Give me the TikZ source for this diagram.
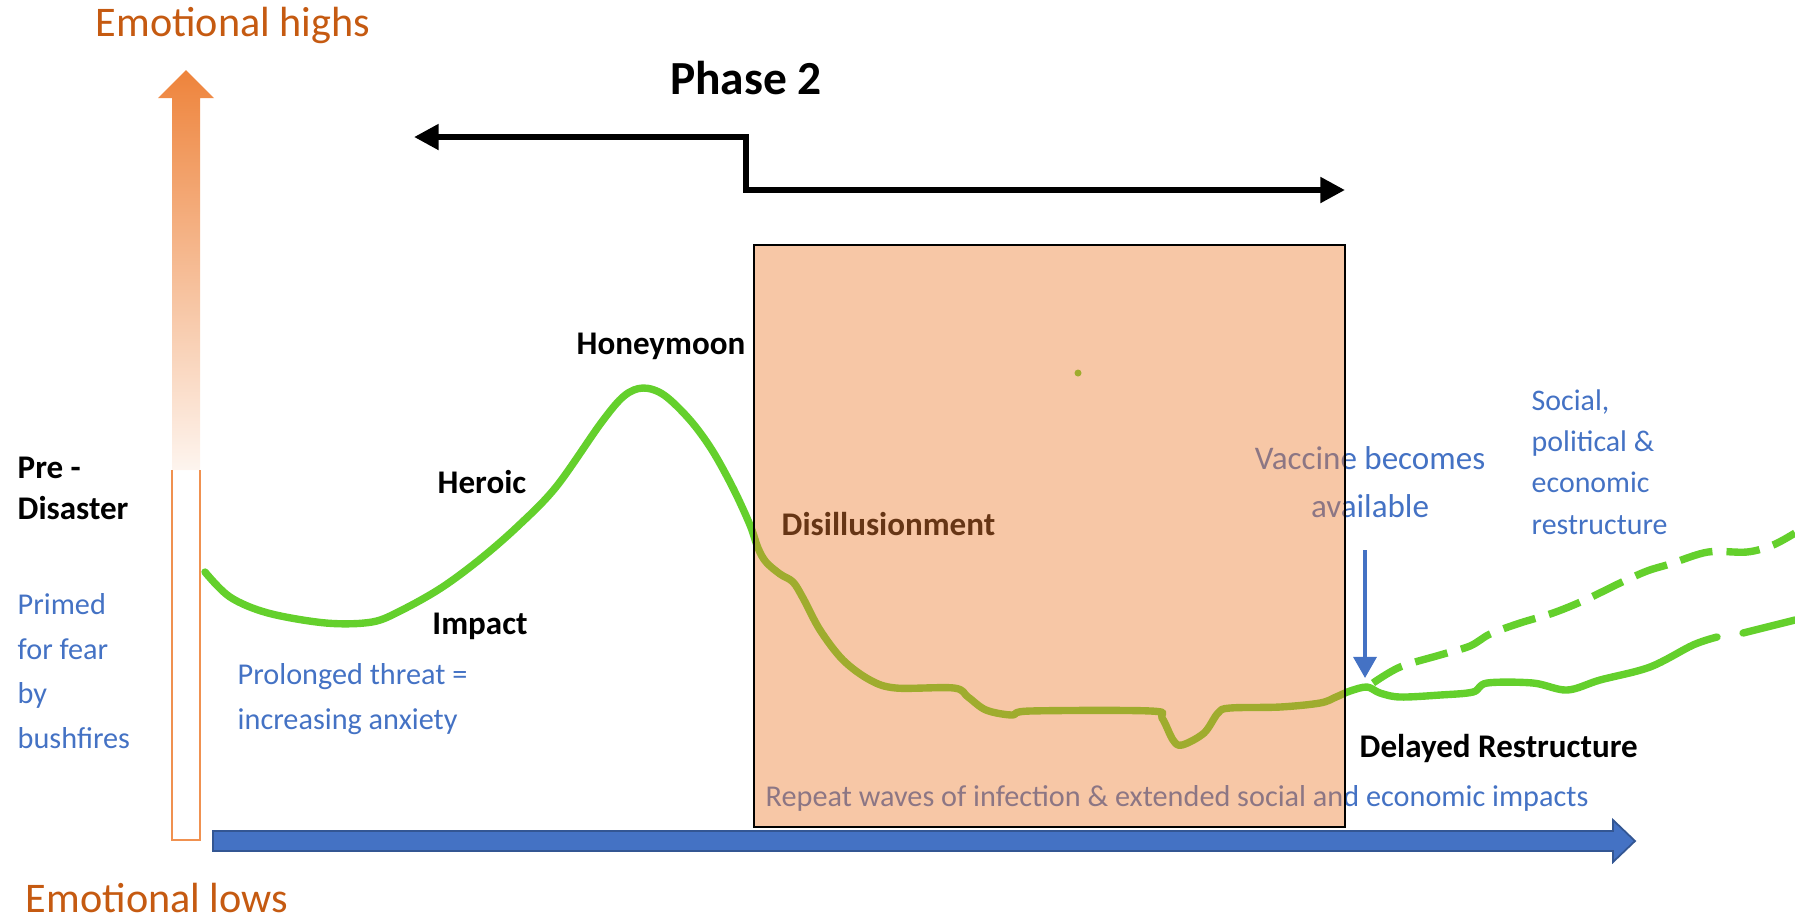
\documentclass[tikz,border=0pt]{standalone}
\usepackage{fontspec}
\setmainfont{Carlito}
\usetikzlibrary{arrows.meta}
\definecolor{hiorange}{HTML}{C55A11}
\definecolor{axorange}{HTML}{ED7D31}
\definecolor{txtblue}{HTML}{4472C4}
\definecolor{curvegreen}{RGB}{100,208,44}
\tikzset{stage/.style = {font=\bfseries\fontsize{9.4}{11.7}\selectfont, inner sep=0pt}}
\tikzset{note/.style = {text=txtblue, font=\fontsize{8.6}{12.7}\selectfont, inner sep=0pt, align=left}}
\tikzset{emo/.style = {text=hiorange, font=\fontsize{12}{14}\selectfont, inner sep=0pt}}
\tikzset{mood/.style = {curvegreen, line width=2.1pt, line cap=round, line join=round}}

\begin{document}
\begin{tikzpicture}[x=0.01cm, y=-0.01cm]
\useasboundingbox (0,0) rectangle (1795,923);
\shade [top color=axorange!95, bottom color=axorange!8] (172,98) -- (158,98) -- (186,70) -- (214,98) -- (200,98) -- (200,470) -- (172,470) -- cycle;
\draw [axorange!85, line width=0.6pt] (172,470) -- (172,840) -- (200,840) -- (200,470);
\draw [fill=txtblue, draw=txtblue!75!black, line width=0.5pt] (213,831) -- (1613,831) -- (1613,820) -- (1635,841) -- (1613,862) -- (1613,851) -- (213,851) -- cycle;
\node [emo] (highs) at (233,25) {Emotional highs};
\node [emo] (lows) at (157,898) {Emotional lows};
\node [font=\bfseries\fontsize{13.5}{16}\selectfont, inner sep=0pt] (phase) at (746,78) {Phase 2};
\coordinate (pleft) at (414,137);
\coordinate (pstep) at (746,137);
\coordinate (pright) at (1345,190);
\draw [line width=1.7pt, {Triangle[length=7pt, width=7pt]}-{Triangle[length=7pt, width=7pt]}] (pleft) -- (pstep) |- (pright);
\draw [mood] plot [smooth, tension=0.55] coordinates {(205,572) (230,597) (268,613) (326,623) (372,622) (402,610) (441,588) (479,560) (517,527) (556,487) (601,423) (624,396) (643,388) (664,395) (690,420) (712,450) (733,488) (750,525) (758,548) (766,562) (780,574) (793,582) (803,598) (820,630) (843,660) (870,680) (896,688) (954,688) (968,697) (986,710) (1012,715) (1030,711) (1151,711) (1162,718) (1173,740) (1182,745) (1204,733) (1218,713) (1230,708) (1280,707) (1320,703) (1336,697) (1350,691) (1367,687) (1380,693) (1400,697) (1440,695) (1473,692) (1487,683) (1533,683) (1567,690) (1600,680) (1650,667) (1693,645) (1717,637)};
\draw [mood] (1743,633) -- (1795,620);
\draw [mood, line cap=butt, dash pattern=on 9.5pt off 4pt] plot [smooth, tension=0.55] coordinates {(1373,683) (1400,667) (1440,655) (1470,646) (1490,634) (1520,623) (1553,613) (1585,600) (1620,583) (1647,571) (1670,564) (1708,552) (1747,552) (1773,545) (1795,533)};
\fill [curvegreen] (1078,373) circle (3.5);
\node [stage] (honey) at (661,346) {Honeymoon};
\node [stage] (heroic) at (482,482) {Heroic};
\node [stage] (impact) at (480,626) {Impact};
\node [stage, align=left, anchor=west] (pre) at (17,488) {Pre -\\Disaster};
\node [stage, anchor=west] (disil) at (781,524) {Disillusionment};
\node [stage, anchor=west] (delay) at (1359,748) {Delayed Restructure};
\node [note, anchor=west] (primed) at (17,671) {Primed\\for fear\\by\\bushfires};
\node [note, anchor=west] (threat) at (237,699) {Prolonged threat =\\increasing anxiety};
\node [note, align=center, font=\fontsize{9.4}{13.7}\selectfont] (vaccine) at (1370,482) {Vaccine becomes\\available};
\node [note, anchor=west, font=\fontsize{8.5}{11.7}\selectfont] (social) at (1531,462) {Social,\\political \&\\economic\\restructure};
\node [note, anchor=west, font=\fontsize{8.6}{10}\selectfont] (waves) at (765,798) {Repeat waves of infection \& extended social and economic impacts};
\coordinate (vtop) at (1365,550);
\coordinate (vtip) at (1365,678);
\draw [txtblue, line width=1.1pt, -{Triangle[length=6pt, width=6.5pt]}] (vtop) -- (vtip);
\draw [fill=axorange, fill opacity=0.43, draw opacity=1, line width=0.5pt] (754,245) rectangle (1345,827);
\end{tikzpicture}
\end{document}
